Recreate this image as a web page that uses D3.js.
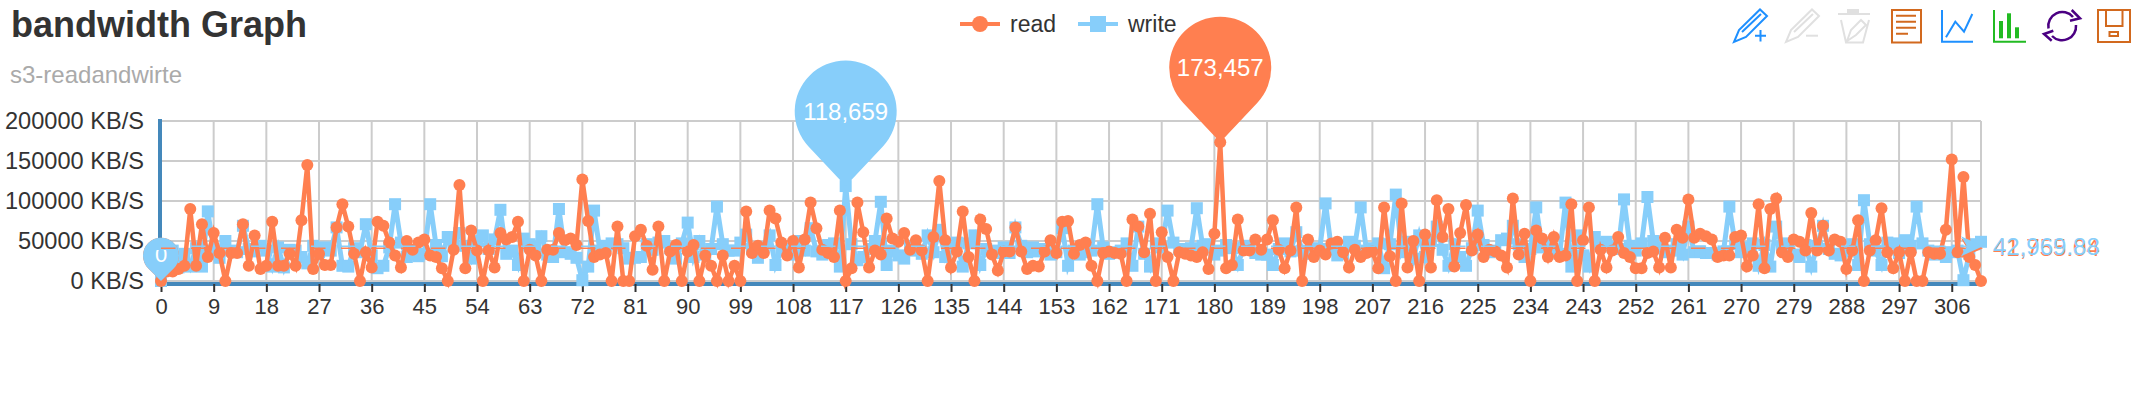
<!DOCTYPE html>
<html><head><meta charset="utf-8">
<script src="https://cdn.jsdelivr.net/npm/d3@7/dist/d3.min.js"></script>
<style>html,body{margin:0;padding:0;background:#fff}svg{display:block}text{font-family:"Liberation Sans",Arial,sans-serif}</style>
</head><body><svg id="c" width="2140" height="400"></svg>
<script>
const titleText = "bandwidth Graph";
const subtitleText = "s3-readandwirte";
const seriesNames = ["read", "write"];
const yTicks = [0, 50, 100, 150, 200];
const tickStep = 9;
// values in thousands of KB/S
const readK = [
0,12,12,15,19,90,19,71,30,60,35,0,35,35,71,19,57,15,19,74,
19,19,34,19,76,145,15,34,20,20,67,96,68,34,0,36,17,74,69,48,
32,17,50,39,48,52,32,30,16,0,39,120,16,63,38,0,38,17,60,52,
55,74,0,39,32,0,39,39,60,51,53,45,127,75,30,33,35,0,68,0,
0,56,64,44,14,68,0,37,45,0,37,45,0,32,19,0,32,0,19,0,
87,35,44,35,88,78,48,32,50,17,52,98,66,39,35,30,88,0,16,98,
61,17,38,33,78,53,49,60,39,51,38,0,55,125,51,17,37,87,30,0,
77,65,33,13,37,37,67,37,15,19,18,37,51,35,74,75,34,45,48,19,
0,35,37,35,34,0,77,68,36,84,0,61,30,0,36,34,32,30,36,15,
59,173.457,16,20,77,38,38,52,39,52,76,39,16,38,92,0,52,30,38,33,
47,49,36,17,39,30,35,37,16,92,31,0,97,17,50,0,58,17,101,55,
90,18,60,95,38,58,30,39,37,32,17,103,33,59,0,63,53,30,55,30,
32,96,0,51,92,0,39,17,38,55,35,30,16,16,35,37,17,54,17,64,
54,102,54,59,56,52,30,32,32,55,57,18,32,96,16,90,103,36,30,52,
49,38,85,38,69,38,52,49,15,38,76,0,38,51,91,36,16,36,0,36,
0,0,36,34,34,64,152,36,130,30,20,0];
const writeK = [
0,42,38,17,34,18,41,18,87,38,29,50,38,36,69,40,37,44,38,18,
42,17,39,38,30,22,44,36,42,38,67,19,18,41,36,71,32,16,19,42,
96,48,30,33,31,34,96,45,31,55,46,60,44,28,50,57,40,52,89,34,
38,20,53,46,42,56,33,30,90,36,34,29,1,18,88,38,44,47,46,41,
28,29,30,46,39,48,50,41,28,47,73,30,50,33,40,93,46,38,38,48,
58,40,29,42,57,20,38,40,33,50,38,66,37,33,45,47,18,118.659,46,26,
30,40,50,99,20,38,32,28,44,38,34,57,36,64,30,42,48,18,47,57,
20,40,38,35,42,35,67,44,36,42,37,40,33,36,66,19,38,33,36,38,
96,42,34,36,38,47,19,68,34,18,47,42,88,48,40,38,41,91,44,46,
33,38,45,41,20,42,44,35,33,33,20,40,47,37,61,38,34,41,40,97,
39,32,34,49,44,92,38,41,47,16,46,108,36,49,28,57,30,50,68,39,
19,46,30,19,41,88,45,36,38,51,53,69,46,30,40,92,42,47,37,34,
98,18,57,32,18,55,47,49,43,40,102,44,38,47,105,50,42,36,38,46,
33,68,36,37,35,35,33,37,93,46,36,42,47,19,45,18,68,43,47,33,
30,45,18,44,69,40,34,32,37,46,20,101,46,38,20,48,47,35,51,44,
93,47,38,33,36,30,36,38,1,34,46,49];
const avgValues = {read: 40.9, write: 43.4};
const avgLabels = {read: "41,755.04", write: "42,969.88"};
const maxPins = [{s:"read", i:181, label:"173,457"}, {s:"write", i:117, label:"118,659"}];
const colors = {read:"#FF7F50", write:"#87CEFA"};
const axisBlue = "#4488BB", gridGray = "#CCCCCC", textDark = "#333333";

const svg = d3.select("#c");
const x = d3.scaleLinear().domain([0, readK.length - 1]).range([161, 1981]);
const y = d3.scaleLinear().domain([0, 200]).range([281, 121]);
const xTickValues = d3.range(0, readK.length, tickStep);

// title
svg.append("text").attr("x",11).attr("y",37).attr("font-size",36).attr("font-weight","bold").attr("fill",textDark).text(titleText);
svg.append("text").attr("x",10).attr("y",83).attr("font-size",24).attr("fill","#AAAAAA").text(subtitleText);

// grid
const grid = svg.append("g").attr("stroke",gridGray).attr("stroke-width",2);
grid.selectAll("line.h").data(yTicks).join("line").attr("class","h")
  .attr("x1",x(0)).attr("x2",x.range()[1]).attr("y1",d=>y(d)).attr("y2",d=>y(d));
grid.selectAll("line.v").data(xTickValues.concat([readK.length-1])).join("line").attr("class","v")
  .attr("y1",y(200)).attr("y2",y(0)).attr("x1",d=>x(d)).attr("x2",d=>x(d));

// axes
const xAxis = svg.append("g").attr("transform","translate(0,284)")
  .call(d3.axisBottom(x).tickValues(xTickValues).tickFormat(d3.format("d")).tickSizeOuter(0).tickSize(8).tickPadding(6));
xAxis.select(".domain").attr("stroke",axisBlue).attr("stroke-width",4).attr("d",`M158,0H${x.range()[1]}`);
xAxis.selectAll(".tick line").attr("stroke",textDark).attr("stroke-width",2);
xAxis.selectAll("text").attr("font-size",22).attr("fill",textDark).attr("font-family","Liberation Sans");
const yAxis = svg.append("g").attr("transform","translate(160,0)")
  .call(d3.axisLeft(y).tickValues(yTicks).tickFormat(d=>(d*1000)+" KB/S").tickSize(0).tickPadding(16));
yAxis.select(".domain").attr("stroke",axisBlue).attr("stroke-width",4).attr("d","M0,119V286");
yAxis.selectAll("text").attr("font-size",23.6).attr("fill",textDark).attr("font-family","Liberation Sans");

const line = d3.line().x((d,i)=>x(i)).y(d=>y(d));
// pins: circle of radius r centred d above the tip, with straight tangents to the tip
function pinPath(px, py, r, d){
  const b=Math.asin(r/d), cy=py-d, dx=r*Math.cos(b), dy=r*Math.sin(b);
  const p=d3.path();
  p.moveTo(px-dx,cy+dy);
  p.arc(px,cy,r,Math.PI-b,Math.PI*2+b);
  p.lineTo(px,py);
  p.closePath();
  return p.toString();
}

// write series
svg.append("path").attr("d",line(writeK)).attr("fill","none").attr("stroke",colors.write).attr("stroke-width",5);
svg.append("g").selectAll("rect").data(writeK).join("rect")
  .attr("x",(d,i)=>x(i)-6).attr("y",d=>y(d)-6).attr("width",12).attr("height",12).attr("fill",colors.write);
// read series
svg.append("path").attr("d",line(readK)).attr("fill","none").attr("stroke",colors.read).attr("stroke-width",4.5);
svg.append("g").selectAll("circle").data(readK).join("circle")
  .attr("cx",(d,i)=>x(i)).attr("cy",d=>y(d)).attr("r",6).attr("fill",colors.read);

// min pin at zero, with the label clipped by the average line
svg.append("defs").append("clipPath").attr("id","minClip").append("rect").attr("x",140).attr("y",250).attr("width",40).attr("height",20);
["read","write"].forEach(s=>{
  svg.append("path").attr("d",pinPath(x(0),y(0),18,25.3)).attr("fill",colors[s]);
});
svg.append("text").attr("x",x(0)).attr("y",262).attr("text-anchor","middle").attr("font-size",22).attr("fill","#fff").attr("clip-path","url(#minClip)").text("0");

// max pins
maxPins.forEach(m=>{
  const v=(m.s==="read"?readK:writeK)[m.i];
  svg.append("path").attr("d",pinPath(x(m.i),y(v),51,74.5)).attr("fill",colors[m.s]);
  svg.append("text").attr("x",x(m.i)).attr("y",y(v)-74.5+8).attr("text-anchor","middle").attr("font-size",24).attr("fill","#fff").text(m.label);
});

// average lines
["read","write"].forEach(s=>{
  const yy=y(avgValues[s]), xe=x.range()[1];
  svg.append("line").attr("x1",x(0)).attr("x2",xe).attr("y1",yy).attr("y2",yy)
    .attr("stroke",colors[s]).attr("stroke-width",1.5).attr("stroke-dasharray","14.5,15.5");
  svg.append("path").attr("d",`M${xe+2},${yy}L${xe-20},${yy+10}L${xe-14},${yy}L${xe-20},${yy-10}Z`).attr("fill",colors[s]);
});
svg.append("text").attr("x",1993).attr("y",y(avgValues.read)+8).attr("font-size",24).attr("fill",colors.read).text(avgLabels.read);
svg.append("text").attr("x",1993).attr("y",y(avgValues.read)+7).attr("font-size",24).attr("fill",colors.write).text(avgLabels.write);

// legend
const lg = svg.append("g");
[[960,"read"],[1078,"write"]].forEach(([lx,s])=>{
  lg.append("line").attr("x1",lx).attr("x2",lx+40).attr("y1",24).attr("y2",24).attr("stroke",colors[s]).attr("stroke-width",4);
  if(s==="read") lg.append("circle").attr("cx",lx+20).attr("cy",24).attr("r",8).attr("fill",colors[s]);
  else lg.append("rect").attr("x",lx+12).attr("y",16).attr("width",16).attr("height",16).attr("fill",colors[s]);
  lg.append("text").attr("x",lx+50).attr("y",32).attr("font-size",23).attr("fill",textDark).text(s);
});

// toolbox
const tb = svg.append("g").attr("fill","none").attr("stroke-width",2);
const ic=(d,c,w)=>tb.append("path").attr("d",d).attr("stroke",c).attr("stroke-width",w||2);
const pencil="M1734,42L1739,30L1760,9.5L1767,16L1746,37ZM1742,32L1761,14";
ic(pencil,"#1E90FF");
ic("M1755,35.7H1766M1760.5,30V41.5","#1E90FF");
tb.append("g").attr("transform","translate(52,0)").append("path").attr("d",pencil).attr("stroke","#E0E0E0");
ic("M1806,35.7H1818","#E0E0E0");
ic("M1838,14H1870M1841,20L1846,42.5H1863L1869,20M1847,41L1851,30L1861,20L1866,25L1856,35Z","#E0E0E0");
tb.append("rect").attr("x",1847).attr("y",9).attr("width",12).attr("height",5).attr("fill","#E0E0E0");
ic("M1892,10H1921V42.5H1892ZM1896,15.7H1916M1896,21.7H1916M1896,27.7H1916M1896,33.7H1908","#D2691E");
ic("M1942,10V41.7H1973","#1E90FF");
ic("M1946,37.3L1955.3,21.7L1964,31.7L1972.3,14","#1E90FF");
ic("M1994,10V41.7H2026","#22BB22");
tb.append("g").attr("fill","#22BB22").selectAll("rect").data([[1999,21],[2007,13.3],[2015,27.3]]).join("rect")
  .attr("x",d=>d[0]).attr("y",d=>d[1]).attr("width",4).attr("height",d=>38.3-d[1]);
ic("M2048.5,28.5A14,14 0 0 1 2073,17M2076,25A14,14 0 0 1 2052,36M2071.7,10L2080,18.3L2070,20.7M2053.3,30.7L2044,34L2051.7,40.7","#4B0082",2.5);
ic("M2098,10H2130V42H2098ZM2106,10V26H2122.5V10M2109.5,32H2118V36H2109.5Z","#D2691E");
</script></body></html>
